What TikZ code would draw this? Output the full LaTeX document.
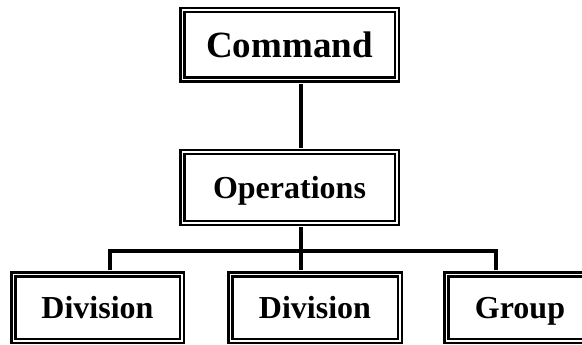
\documentclass[tikz,border=0pt]{standalone}
\usepackage{fontspec}
\setmainfont{Liberation Serif}
\tikzset{>=stealth,
  unitbox/.style={draw, line width=2.5pt, double=white, double distance=1.5pt,
    inner sep=0pt, text height=22pt, text depth=1pt,
    font=\bfseries\fontsize{32}{35}\selectfont},
  link/.style={line width=3.5pt, shorten <=3pt, shorten >=3pt}}

\begin{document}
\begin{tikzpicture}[x=1pt,y=-1pt]
\useasboundingbox (0,0) rectangle (582,345);
\clip (0,0) rectangle (582,345);
\node[unitbox, minimum width=214.5pt, minimum height=69.5pt, text height=25pt, text depth=0pt,
  font=\bfseries\fontsize{37}{40}\selectfont] (cmd) at (289.5,45) {Command};
\node[unitbox, minimum width=214.5pt, minimum height=70.5pt] (ops) at (289.5,187.5) {Operations};
\node[unitbox, minimum width=168.5pt, minimum height=66.5pt] (divA) at (97.5,307.5) {Division};
\node[unitbox, minimum width=169.5pt, minimum height=66.5pt] (divB) at (315,307.5) {Division};
\node[unitbox, minimum width=147.5pt, minimum height=66.5pt] (grp) at (520,307.5) {Group};
\coordinate (trunk) at (301,251);
\coordinate (lbar) at (110,251);
\coordinate (rbar) at (496,251);
\draw[link] (cmd.south -| trunk) -- (ops.north -| trunk);
\draw[link] (ops.south -| trunk) -- (divB.north -| trunk);
\draw[link] (lbar |- divA.north) -- (lbar) -- (rbar) -- (rbar |- grp.north);
\end{tikzpicture}
\end{document}
